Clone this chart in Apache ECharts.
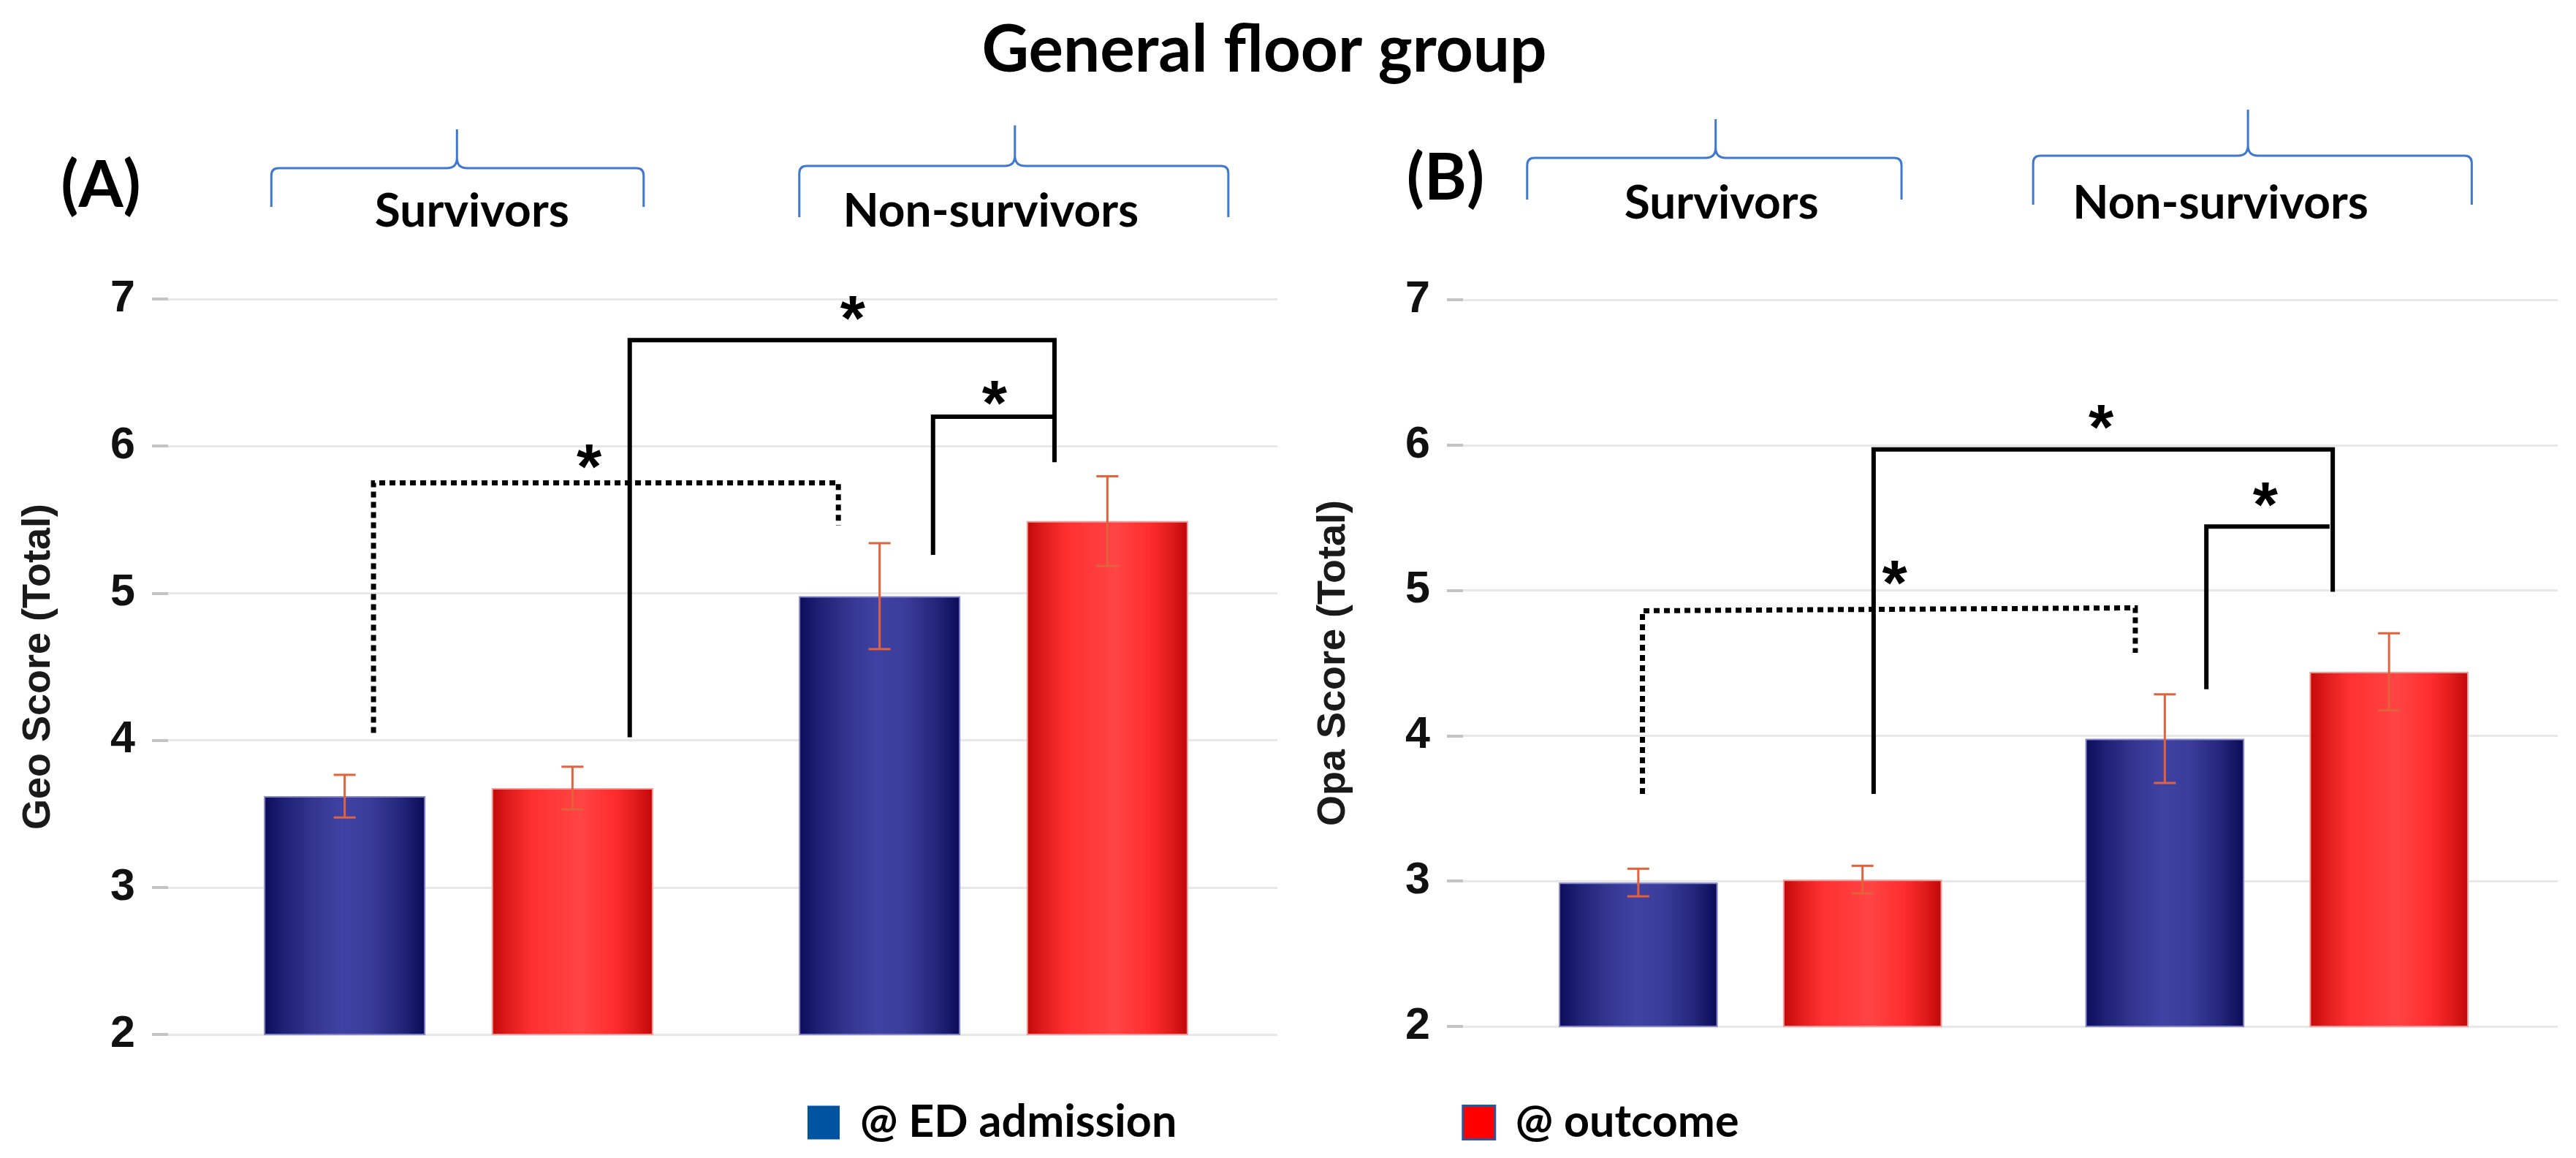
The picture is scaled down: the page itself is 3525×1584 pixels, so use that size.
<!DOCTYPE html>
<html><head><meta charset="utf-8">
<script src="https://cdn.jsdelivr.net/npm/echarts@6/dist/echarts.min.js"></script>
<style>html,body{margin:0;padding:0;background:#fff}#c{width:3525px;height:1584px}</style>
</head><body><div id="c"></div>
<script>
// ---------------- data ----------------
const groups = ['Survivors', 'Non-survivors'];
const seriesNames = ['@ ED admission', '@ outcome'];
const yTicks = [2, 3, 4, 5, 6, 7];
const geoED = [3.62, 4.98];
const geoEDErr = [0.145, 0.36];
const geoOutcome = [3.675, 5.49];
const geoOutcomeErr = [0.145, 0.305];
const opaED = [2.99, 3.98];
const opaEDErr = [0.095, 0.305];
const opaOutcome = [3.01, 4.44];
const opaOutcomeErr = [0.095, 0.265];

// significance brackets (x: 0 = Survivors centre, 1 = Non-survivors centre; y in score units)
const bracketsA = [
  { dotted: true,  pts: [[-0.159, 4.05], [-0.159, 5.75], [0.71, 5.75], [0.71, 5.46]] },
  { dotted: false, pts: [[0.32, 4.02], [0.32, 6.72], [1.114, 6.72], [1.114, 5.89]] },
  { dotted: false, pts: [[0.887, 5.26], [0.887, 6.2], [1.114, 6.2]] }
];
const starsA = [[0.737, 6.94], [1.002, 6.36], [0.244, 5.93]];
const bracketsB = [
  { dotted: true,  pts: [[-0.205, 3.6], [-0.205, 4.86], [0.731, 4.88], [0.731, 4.57]] },
  { dotted: false, pts: [[0.234, 3.6], [0.234, 5.97], [1.106, 5.97], [1.106, 4.99]] },
  { dotted: false, pts: [[0.866, 4.32], [0.866, 5.44], [1.1, 5.44]] }
];
const starsB = [[0.666, 6.195], [0.978, 5.66], [0.274, 5.12]];

// group braces above each panel
const bracesA = [
  { g: 0, x1: -0.35, x2: 0.346, xt: -0.003, yLine: 7.89, yTip: 8.153, yEnd: 7.626, lx: 0.025, ly: 7.616 },
  { g: 1, x1: 0.637, x2: 1.439, xt: 1.04, yLine: 7.905, yTip: 8.18, yEnd: 7.557, lx: 0.995, ly: 7.616 }
];
const bracesB = [
  { g: 0, x1: -0.424, x2: 0.287, xt: -0.066, yLine: 7.976, yTip: 8.242, yEnd: 7.689, lx: -0.055, ly: 7.68 },
  { g: 1, x1: 0.537, x2: 1.37, xt: 0.945, yLine: 7.991, yTip: 8.308, yEnd: 7.654, lx: 0.893, ly: 7.68 }
];

// ---------------- styles ----------------
const FONT_C = 'Lato, "Open Sans", sans-serif';
const FONT_A = '"Liberation Sans", Arial, sans-serif';
const BAR_W = 0.302, BAR_GAP = 0.41;
const BAR_OFFSET = (BAR_W + BAR_W * BAR_GAP) / 2;
const ERR_COLOR = '#e2623c';
const BRACE_COLOR = '#3f78cf';
const STAR_SIZE = 88;

const blueGrad = { type: 'linear', x: 0, y: 0, x2: 1, y2: 0, colorStops: [
  { offset: 0, color: '#0b0b5a' }, { offset: 0.12, color: '#1e2074' }, { offset: 0.3, color: '#33358f' },
  { offset: 0.48, color: '#4042a3' }, { offset: 0.65, color: '#3b3d9b' }, { offset: 0.85, color: '#23267a' },
  { offset: 1, color: '#0a0a56' }] };
const redGrad = { type: 'linear', x: 0, y: 0, x2: 1, y2: 0, colorStops: [
  { offset: 0, color: '#c20808' }, { offset: 0.1, color: '#de1b1b' }, { offset: 0.25, color: '#ff3030' },
  { offset: 0.55, color: '#ff4444' }, { offset: 0.76, color: '#ff2d2d' }, { offset: 0.9, color: '#df1a1a' },
  { offset: 1, color: '#c00707' }] };

const chart = echarts.init(document.getElementById('c'), null, { renderer: 'canvas' });

function yAxisVisible(grid, name) {
  return {
    gridIndex: grid, type: 'value', min: yTicks[0], max: yTicks[yTicks.length - 1], interval: 1,
    axisLine: { show: false },
    axisTick: { show: true, length: 22, lineStyle: { color: '#c4c4c4', width: 4 } },
    splitLine: { show: true, lineStyle: { color: '#e8e8e8', width: 3 } },
    axisLabel: { margin: 45, color: '#111', fontFamily: FONT_A, fontWeight: 'bold', fontSize: 61 },
    name: name, nameLocation: 'middle', nameRotate: 90, nameGap: 150,
    nameTextStyle: { color: '#1a1a1a', fontFamily: FONT_A, fontWeight: 'bold', fontSize: 54 }
  };
}
function yAxisHidden(grid) {
  return { gridIndex: grid, type: 'value', min: yTicks[0], max: yTicks[yTicks.length - 1], interval: 1, show: false };
}

function barSeries(name, xi, yi, data, grad, border) {
  return {
    type: 'bar', name: name, xAxisIndex: xi, yAxisIndex: yi, data: data,
    barWidth: (BAR_W * 100) + '%', barGap: (BAR_GAP * 100) + '%', clip: true, z: 3,
    itemStyle: { color: grad, borderColor: border, borderWidth: 2 }, silent: true
  };
}

function errSeries(xi, yi, vals, errs, side) {
  return {
    type: 'custom', xAxisIndex: xi, yAxisIndex: yi, z: 6, silent: true, clip: false,
    data: vals.map((v, i) => [i, v - errs[i], v + errs[i]]),
    renderItem: function (params, api) {
      const i = api.value(0);
      const bw = api.size([1, 0])[0];
      const lo = api.coord([i, api.value(1)]);
      const hi = api.coord([i, api.value(2)]);
      const x = lo[0] + side * BAR_OFFSET * bw;
      const cw = 15;
      const st = { stroke: ERR_COLOR, lineWidth: 3 };
      return { type: 'group', children: [
        { type: 'line', shape: { x1: x, y1: hi[1], x2: x, y2: lo[1] }, style: st },
        { type: 'line', shape: { x1: x - cw, y1: hi[1], x2: x + cw, y2: hi[1] }, style: st },
        { type: 'line', shape: { x1: x - cw, y1: lo[1], x2: x + cw, y2: lo[1] }, style: st }
      ] };
    }
  };
}

function bracketSeries(xi, yi, list) {
  return {
    type: 'custom', xAxisIndex: xi, yAxisIndex: yi, z: 8, silent: true, clip: false,
    data: list.map(b => b.pts[0]),
    renderItem: function (params, api) {
      const b = list[params.dataIndex];
      const pts = b.pts.map(p => api.coord(p));
      return { type: 'polyline', shape: { points: pts },
        style: { stroke: '#000', lineWidth: b.dotted ? 7 : 6, fill: null, lineDash: b.dotted ? [8, 6] : null, lineJoin: 'miter' } };
    }
  };
}

function starSeries(xi, yi, list) {
  return {
    type: 'custom', xAxisIndex: xi, yAxisIndex: yi, z: 9, silent: true, clip: false,
    data: list,
    renderItem: function (params, api) {
      const p = api.coord([api.value(0), api.value(1)]);
      return { type: 'text', x: p[0], y: p[1] + STAR_SIZE * 0.22,
        style: { text: '*', fill: '#000', fontSize: STAR_SIZE, fontWeight: 'bold', fontFamily: FONT_A,
          align: 'center', verticalAlign: 'middle' } };
    }
  };
}

function braceSeries(xi, yi, list) {
  return {
    type: 'custom', xAxisIndex: xi, yAxisIndex: yi, z: 9, silent: true, clip: false,
    data: list.map(b => [b.xt, b.yLine]),
    renderItem: function (params, api) {
      const b = list[params.dataIndex];
      const a = api.coord([b.x1, b.yLine]), c = api.coord([b.x2, b.yLine]);
      const t = api.coord([b.xt, b.yTip]);
      const e = api.coord([b.x1, b.yEnd]);
      const y = a[1], ye = e[1], yt = t[1], xt = t[0];
      const r = 10, s = 14;
      const d = 'M' + a[0] + ',' + ye + ' L' + a[0] + ',' + (y + r) + ' Q' + a[0] + ',' + y + ' ' + (a[0] + r) + ',' + y +
        ' L' + (xt - s) + ',' + y + ' Q' + xt + ',' + y + ' ' + xt + ',' + (y - s) + ' L' + xt + ',' + yt +
        ' M' + xt + ',' + (y - s) + ' Q' + xt + ',' + y + ' ' + (xt + s) + ',' + y +
        ' L' + (c[0] - r) + ',' + y + ' Q' + c[0] + ',' + y + ' ' + c[0] + ',' + (y + r) + ' L' + c[0] + ',' + ye;
      const l = api.coord([b.lx, b.ly]);
      return { type: 'group', children: [
        { type: 'path', shape: { pathData: d }, style: { stroke: BRACE_COLOR, lineWidth: 3, fill: null } },
        { type: 'text', x: l[0], y: l[1] + 4, style: { text: groups[b.g], fill: '#000', fontSize: 64, fontWeight: 'bold',
          fontFamily: FONT_C, align: 'center', verticalAlign: 'middle' } }
      ] };
    }
  };
}

const option = {
  backgroundColor: '#ffffff',
  animation: false,
  grid: [
    { left: 230, top: 409, width: 1518, height: 1006 },
    { left: 261.5, top: 409, width: 1464, height: 1006 },
    { left: 2002, top: 410, width: 1498, height: 994 },
    { left: 2035, top: 410, width: 1441, height: 994 }
  ],
  xAxis: [
    { gridIndex: 0, type: 'value', min: 0, max: 1, show: false },
    { gridIndex: 1, type: 'category', data: groups, show: false },
    { gridIndex: 1, type: 'value', min: -0.5, max: 1.5, show: false },
    { gridIndex: 2, type: 'value', min: 0, max: 1, show: false },
    { gridIndex: 3, type: 'category', data: groups, show: false },
    { gridIndex: 3, type: 'value', min: -0.5, max: 1.5, show: false }
  ],
  yAxis: [
    yAxisVisible(0, 'Geo Score (Total)'),
    yAxisHidden(1),
    yAxisVisible(2, 'Opa Score (Total)'),
    yAxisHidden(3)
  ],
  legend: {
    left: 1100, top: 1500, itemWidth: 44, itemHeight: 46, itemGap: 390, icon: 'rect', selectedMode: false,
    data: [
      { name: seriesNames[0], itemStyle: { color: '#00539f', borderWidth: 0 } },
      { name: seriesNames[1], itemStyle: { color: '#ff0000', borderColor: '#2b579a', borderWidth: 3 } }
    ],
    textStyle: { color: '#000', fontFamily: FONT_C, fontWeight: 'bold', fontSize: 61, padding: [0, 0, 0, 23] }
  },
  graphic: [
    { type: 'text', x: 1730, y: 69, style: { text: 'General floor group', fill: '#000', fontSize: 89, fontWeight: 'bold',
      fontFamily: FONT_C, align: 'center', verticalAlign: 'middle' } },
    { type: 'text', x: 138, y: 255, style: { text: '(A)', fill: '#000', fontSize: 88, fontWeight: 'bold',
      fontFamily: FONT_C, align: 'center', verticalAlign: 'middle' } },
    { type: 'text', x: 1978, y: 245, style: { text: '(B)', fill: '#000', fontSize: 88, fontWeight: 'bold',
      fontFamily: FONT_C, align: 'center', verticalAlign: 'middle' } }
  ],
  series: [
    barSeries(seriesNames[0], 1, 1, geoED, blueGrad, '#8585cc'),
    barSeries(seriesNames[1], 1, 1, geoOutcome, redGrad, '#f59a9a'),
    errSeries(1, 1, geoED, geoEDErr, -1),
    errSeries(1, 1, geoOutcome, geoOutcomeErr, 1),
    bracketSeries(2, 1, bracketsA),
    starSeries(2, 1, starsA),
    braceSeries(2, 1, bracesA),
    barSeries(seriesNames[0], 4, 3, opaED, blueGrad, '#8585cc'),
    barSeries(seriesNames[1], 4, 3, opaOutcome, redGrad, '#f59a9a'),
    errSeries(4, 3, opaED, opaEDErr, -1),
    errSeries(4, 3, opaOutcome, opaOutcomeErr, 1),
    bracketSeries(5, 3, bracketsB),
    starSeries(5, 3, starsB),
    braceSeries(5, 3, bracesB)
  ]
};
chart.setOption(option);
</script></body></html>
